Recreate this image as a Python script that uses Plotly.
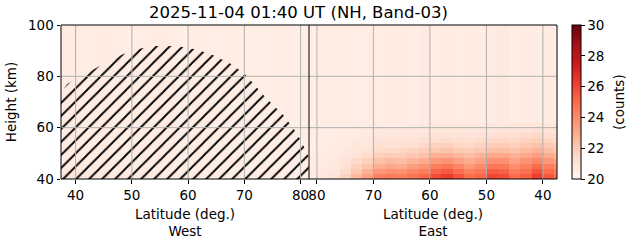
import plotly.graph_objects as go

# ---------------- data ----------------
heights = [41, 43, 45, 47, 49, 51, 53, 55, 57, 59, 61, 63, 65, 67, 69, 71, 73, 75,
           77, 79, 81, 83, 85, 87, 89, 91, 93, 95, 97, 99]

west_lat = [37, 39, 41, 43, 45, 47, 49, 51, 53, 55, 57, 59, 61, 63, 65, 67, 69, 71,
            73, 75, 77, 79, 81]
east_lat = [81, 79, 77, 75, 73, 71, 69, 67, 65, 63, 61, 59, 57, 55, 53, 51, 49, 47,
            45, 43, 41, 39, 37]

# West rows (bottom rows), rest background
w_r41 = [20.9, 20.9, 20.8, 20.8, 20.8, 20.7, 20.7, 20.7, 20.6, 20.6, 20.6, 20.6, 20.6,
         20.5, 20.5, 20.5, 20.5, 20.5, 20.5, 20.4, 20.4, 20.4, 20.4]
w_r43 = [20.8, 20.8, 20.7, 20.7, 20.7, 20.6, 20.6, 20.6, 20.6, 20.5, 20.5, 20.5, 20.5,
         20.5, 20.5, 20.5, 20.4, 20.4, 20.4, 20.4, 20.4, 20.4, 20.4]
w_r45 = [20.7, 20.7, 20.7, 20.6, 20.6, 20.6, 20.6, 20.5, 20.5, 20.5, 20.5, 20.5, 20.5,
         20.5, 20.4, 20.4, 20.4, 20.4, 20.4, 20.4, 20.4, 20.4, 20.4]
w_bg = [20.5, 20.6, 20.5, 20.5, 20.6, 20.5, 20.4, 20.5, 20.5, 20.6, 20.5, 20.4, 20.5,
        20.5, 20.4, 20.5, 20.4, 20.5, 20.4, 20.4, 20.5, 20.4, 20.4]

# East rows (heights 41..61 km), rest background
e_r41 = [20.6, 20.8, 21.0, 21.7, 22.5, 23.3, 24.3, 24.5, 24.3, 24.7, 25.1, 25.8, 26.2,
         25.6, 24.9, 25.1, 26.0, 25.8, 24.9, 25.3, 26.2, 25.5, 24.7]
e_r43 = [20.6, 20.7, 20.9, 21.4, 22.1, 22.8, 23.6, 23.8, 23.7, 24.1, 24.4, 25.1, 25.5,
         24.9, 24.3, 24.6, 25.4, 25.2, 24.4, 24.8, 25.6, 24.9, 24.2]
e_r45 = [20.5, 20.6, 20.8, 21.2, 21.7, 22.2, 22.9, 23.1, 23.0, 23.4, 23.7, 24.3, 24.6,
         24.1, 23.6, 24.0, 24.6, 24.5, 23.9, 24.3, 24.9, 24.3, 23.7]
e_r47 = [20.5, 20.6, 20.7, 21.0, 21.4, 21.8, 22.3, 22.5, 22.4, 22.7, 23.0, 23.5, 23.7,
         23.3, 23.0, 23.3, 23.8, 23.8, 23.3, 23.7, 24.1, 23.6, 23.1]
e_r49 = [20.5, 20.5, 20.6, 20.9, 21.1, 21.4, 21.8, 21.9, 21.9, 22.1, 22.3, 22.8, 22.9,
         22.6, 22.4, 22.7, 23.1, 23.1, 22.8, 23.1, 23.4, 23.0, 22.6]
e_r51 = [20.4, 20.5, 20.6, 20.7, 20.9, 21.1, 21.4, 21.5, 21.5, 21.7, 21.9, 22.1, 22.2,
         22.0, 21.9, 22.1, 22.4, 22.4, 22.2, 22.5, 22.8, 22.4, 22.1]
e_r53 = [20.4, 20.5, 20.5, 20.6, 20.8, 20.9, 21.2, 21.2, 21.2, 21.3, 21.5, 21.7, 21.8,
         21.6, 21.5, 21.7, 21.9, 22.0, 21.8, 22.1, 22.3, 22.0, 21.8]
e_r55 = [20.4, 20.4, 20.5, 20.6, 20.7, 20.8, 21.0, 21.1, 21.0, 21.1, 21.2, 21.3, 21.4,
         21.3, 21.2, 21.4, 21.5, 21.6, 21.5, 21.7, 21.8, 21.6, 21.4]
e_r57 = [20.4, 20.4, 20.5, 20.5, 20.6, 20.7, 20.8, 20.9, 20.8, 20.9, 21.0, 21.1, 21.1,
         21.0, 21.0, 21.1, 21.2, 21.3, 21.2, 21.4, 21.5, 21.3, 21.1]
e_r59 = [20.4, 20.4, 20.4, 20.5, 20.5, 20.6, 20.7, 20.7, 20.7, 20.8, 20.8, 20.9, 20.9,
         20.9, 20.8, 20.9, 20.9, 21.0, 21.0, 21.1, 21.2, 21.0, 20.9]
e_r61 = [20.4, 20.4, 20.4, 20.5, 20.5, 20.5, 20.6, 20.6, 20.6, 20.6, 20.7, 20.7, 20.7,
         20.7, 20.7, 20.7, 20.8, 20.8, 20.8, 20.9, 20.9, 20.8, 20.7]
e_bg = [20.4, 20.5, 20.5, 20.5, 20.4, 20.5, 20.5, 20.6, 20.6, 20.4, 20.6, 20.5, 20.6,
        20.5, 20.6, 20.5, 20.6, 20.7, 20.4, 20.6, 20.5, 20.6, 20.5]

# Hatched (shadow) region boundary on the West side: latitude, height
hatch_lat = [37.4, 37.4, 38.5, 44.6, 48.4, 51.4, 53.8, 57.9, 61.5, 64.4, 68.0, 70.4,
             73.9, 76.9, 78.7, 80.2, 81.4, 81.5]
hatch_hgt = [40.0, 73.5, 77.0, 84.4, 88.6, 90.7, 91.8, 91.8, 90.5, 88.3, 84.4, 80.2,
             71.5, 65.0, 59.8, 54.6, 48.8, 40.0]

west_ticks = [40, 50, 60, 70, 80]
east_ticks = [80, 70, 60, 50, 40]
y_ticks = [40, 60, 80, 100]
cbar_ticks = [20, 22, 24, 26, 28, 30]

title = "2025-11-04 01:40 UT (NH, Band-03)"

# ---------------- figure ----------------
west_z = [w_r41, w_r43, w_r45] + [w_bg] * (len(heights) - 3)
east_z = [e_r41, e_r43, e_r45, e_r47, e_r49, e_r51, e_r53, e_r55, e_r57, e_r59, e_r61] + \
         [e_bg] * (len(heights) - 11)

reds = [[0.0, "#fff5f0"], [0.125, "#fee0d2"], [0.25, "#fcbba1"], [0.375, "#fc9272"],
        [0.5, "#fb6a4a"], [0.625, "#ef3b2c"], [0.75, "#cb181d"], [0.875, "#a50f15"],
        [1.0, "#67000d"]]

FONT = "DejaVu Sans"
fig = go.Figure()

fig.add_trace(go.Heatmap(x=west_lat, y=heights, z=west_z, colorscale=reds,
                         zmin=20, zmax=30, showscale=False, xaxis="x", yaxis="y",
                         hoverinfo="skip"))
fig.add_trace(go.Heatmap(
    x=east_lat, y=heights, z=east_z, colorscale=reds, zmin=20, zmax=30,
    xaxis="x2", yaxis="y", hoverinfo="skip",
    colorbar=dict(x=1.031, xanchor="left", xpad=0, ypad=0, y=0.5, yanchor="middle",
                  len=1, lenmode="fraction", thickness=9, thicknessmode="pixels",
                  outlinecolor="black", outlinewidth=1, ticks="outside", ticklen=3.5,
                  tickcolor="black", tickvals=cbar_ticks,
                  tickfont=dict(family=FONT, size=13.5, color="black"))))

fig.add_trace(go.Scatter(
    x=hatch_lat, y=hatch_hgt, xaxis="x", yaxis="y", mode="lines",
    line=dict(width=0, color="rgba(0,0,0,0)"), fill="toself",
    fillcolor="rgba(0,0,0,0)",
    fillpattern=dict(shape="/", fgcolor="black", bgcolor="rgba(0,0,0,0)",
                     fgopacity=1, size=9.2, solidity=0.2, fillmode="overlay"),
    hoverinfo="skip"))

shapes = []
for t in west_ticks:
    shapes.append(dict(type="line", xref="x", yref="paper", x0=t, x1=t, y0=0, y1=1,
                       line=dict(color="#b0b0b0", width=1), layer="above"))
for t in east_ticks:
    shapes.append(dict(type="line", xref="x2", yref="paper", x0=t, x1=t, y0=0, y1=1,
                       line=dict(color="#b0b0b0", width=1), layer="above"))
for t in y_ticks[1:-1]:
    shapes.append(dict(type="line", xref="paper", yref="y", x0=0, x1=1, y0=t, y1=t,
                       line=dict(color="#b0b0b0", width=1), layer="above"))
shapes.append(dict(type="rect", xref="paper", yref="paper", x0=0, x1=1, y0=0, y1=1,
                   line=dict(color="black", width=1), layer="above"))
shapes.append(dict(type="line", xref="paper", yref="paper", x0=0.5, x1=0.5, y0=0, y1=1,
                   line=dict(color="black", width=1), layer="above"))

axis_common = dict(ticks="outside", ticklen=3.5, tickcolor="black", tickwidth=1,
                   showgrid=False, zeroline=False, showline=False, automargin=False,
                   tickfont=dict(family=FONT, size=13.5, color="black"))

fig.update_layout(
    width=631, height=243,
    margin=dict(l=61, r=74, t=25, b=64, autoexpand=False),
    paper_bgcolor="white", plot_bgcolor="white",
    font=dict(family=FONT, size=13.5, color="black"),
    showlegend=False,
    shapes=shapes,
    annotations=[dict(text="(counts)", textangle=-90, xref="paper", yref="paper",
                      x=(619 - 61) / 496, y=0.5, xanchor="center", yanchor="middle",
                      showarrow=False, font=dict(family=FONT, size=13.5, color="black"))],
    title=dict(text=title, x=298.5 / 631, xanchor="center", y=1 - 12 / 243,
               yanchor="middle", font=dict(family=FONT, size=16.5, color="black")),
    xaxis=dict(domain=[0, 0.5], range=[37.4, 81.5], tickvals=west_ticks,
               title=dict(text="Latitude (deg.)<br>West", standoff=7,
                          font=dict(family=FONT, size=13.5)),
               anchor="y", **axis_common),
    xaxis2=dict(domain=[0.5, 1], range=[81.4, 37.5], tickvals=east_ticks,
                title=dict(text="Latitude (deg.)<br>East", standoff=7,
                           font=dict(family=FONT, size=13.5)),
                anchor="y", **axis_common),
    yaxis=dict(range=[40, 100], tickvals=y_ticks, anchor="x",
               title=dict(text="Height (km)", standoff=8,
                          font=dict(family=FONT, size=13.5)),
               **axis_common),
)

fig.write_html("out.html")
